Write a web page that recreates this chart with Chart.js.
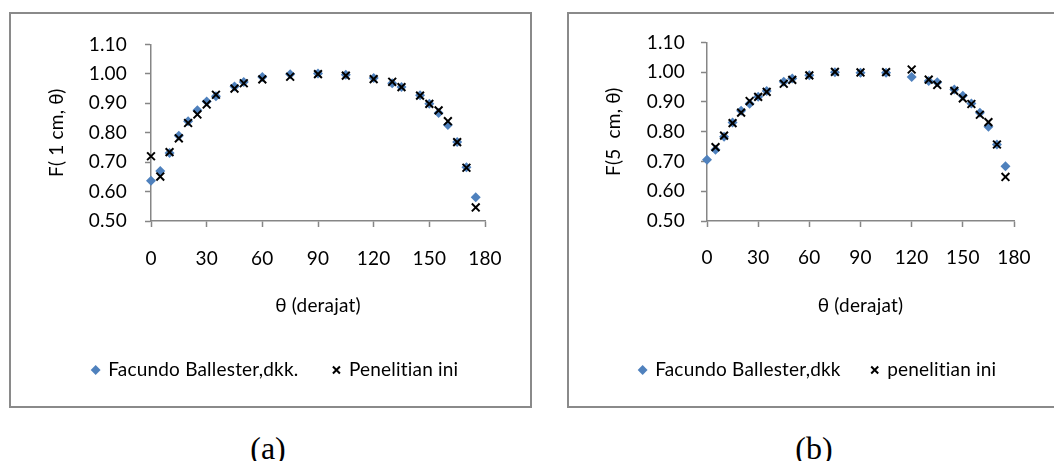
<!DOCTYPE html>
<html><head><meta charset="utf-8">
<script src="https://cdn.jsdelivr.net/npm/chart.js@4.4.0/dist/chart.umd.min.js"></script>
<style>
html,body{margin:0;padding:0;background:#fff;width:1054px;height:461px;overflow:hidden;position:relative}
.frame{position:absolute;border:2px solid #8a8a8a;box-sizing:border-box}
.cv{position:absolute}
.cap{position:absolute;font-family:'Liberation Serif','Times New Roman',serif;font-size:32px;line-height:1;transform:translate(-50%,-50%);color:#000}
</style></head>
<body>
<div class="frame" style="left:9px;top:12px;width:523px;height:396px"></div>
<div class="frame" style="left:567px;top:12px;width:500px;height:396px"></div>
<div class="cv" style="left:12px;top:15px;width:517px;height:390px"><canvas id="ca" width="517" height="390"></canvas></div>
<div class="cv" style="left:570px;top:15px;width:484px;height:390px"><canvas id="cb" width="484" height="390"></canvas></div>
<div class="cap" style="left:268px;top:448px">(a)</div>
<div class="cap" style="left:814px;top:448px">(b)</div>
<script>
// ---- data ----
const xTicks = [0, 30, 60, 90, 120, 150, 180];
const yTicks = [0.50, 0.60, 0.70, 0.80, 0.90, 1.00, 1.10];

const anglesA = [0,5,10,15,20,25,30,35,45,50,60,75,90,105,120,130,135,145,150,155,160,165,170,175];
const facundoA = [0.637,0.670,0.731,0.790,0.839,0.876,0.906,0.924,0.957,0.972,0.989,0.999,1.001,0.997,0.986,0.968,0.955,0.927,0.898,0.867,0.826,0.768,0.683,0.581];
const penelitianA = [0.720,0.651,0.734,0.781,0.833,0.862,0.896,0.929,0.950,0.968,0.981,0.990,0.999,0.994,0.982,0.973,0.955,0.926,0.898,0.876,0.839,0.768,0.681,0.546];

const anglesFacB = [0,5,10,15,20,25,30,35,45,50,60,75,90,105,120,130,135,145,150,155,160,165,170,175];
const facundoB = [0.706,0.739,0.783,0.831,0.870,0.894,0.917,0.937,0.968,0.979,0.990,1.000,0.998,0.998,0.984,0.970,0.966,0.942,0.921,0.895,0.864,0.817,0.757,0.684];
const anglesPenB = [5,10,15,20,25,30,35,45,50,60,75,90,105,120,130,135,145,150,155,160,165,170,175];
const penelitianB = [0.748,0.787,0.829,0.864,0.903,0.917,0.934,0.961,0.974,0.989,1.001,0.999,1.000,1.009,0.975,0.957,0.937,0.912,0.893,0.857,0.832,0.757,0.648];

const labelsA = ['Facundo Ballester,dkk.', 'Penelitian ini'];
const labelsB = ['Facundo Ballester,dkk', 'penelitian ini'];
const yTitleA = 'F( 1 cm, \u03b8)';
const yTitleB = 'F(5  cm, \u03b8)';
const xTitle = '\u03b8 (derajat)';

const pts = (xs, ys) => xs.map((x, i) => ({x, y: ys[i]}));

const FONT = {family: 'Lato, "Open Sans", sans-serif', size: 19};
const AXIS = '#868686';

// slight letter spacing (also stops the "ti" ligature)
const spacing = {
  id: 'spacing',
  beforeUpdate(c) { c.ctx.letterSpacing = '0.2px'; },
  beforeDraw(c) { c.ctx.letterSpacing = '0.2px'; }
};

function makeChart(id, p) {
  return new Chart(document.getElementById(id), {
    type: 'scatter',
    plugins: [spacing],
    data: {
      datasets: [
        {label: p.labels[0], data: pts(p.fx, p.fy), order: 2, clip: false,
         pointStyle: 'rectRot', pointRadius: 5, pointBorderWidth: 0,
         pointBackgroundColor: '#4F81BD', pointBorderColor: '#4F81BD',
         backgroundColor: '#4F81BD', borderColor: '#4F81BD'},
        {label: p.labels[1], data: pts(p.px, p.py), order: 1, clip: false,
         pointStyle: 'crossRot', pointRadius: 5.5, pointBorderWidth: 2,
         pointBackgroundColor: '#000', pointBorderColor: '#000',
         backgroundColor: '#000', borderColor: '#000'}
      ]
    },
    options: {
      responsive: false, animation: false, events: [],
      layout: {padding: {left: p.padL, right: 0, top: 26, bottom: p.padB}},
      plugins: {
        tooltip: {enabled: false},
        legend: {
          position: 'bottom', align: 'center',
          labels: {usePointStyle: true, boxWidth: 6, boxHeight: 7, padding: p.legPad,
                   font: FONT, color: '#000',
                   sort: (a, b) => a.datasetIndex - b.datasetIndex}
        }
      },
      scales: {
        x: {
          type: 'linear', min: 0, max: 180,
          afterBuildTicks: s => { s.ticks = xTicks.map(v => ({value: v})); },
          afterFit: s => { s.height = p.xH; },
          grid: {drawOnChartArea: false, drawTicks: true, tickLength: 6, tickColor: AXIS, tickWidth: 1.5},
          border: {color: AXIS, width: 1.5},
          ticks: {font: FONT, color: '#000', padding: p.xTickPad, maxRotation: 0},
          title: {display: true, text: xTitle, font: FONT, color: '#000', padding: {top: 0, bottom: p.xTitlePad}}
        },
        y: {
          type: 'linear', min: 0.5, max: 1.1, position: 'left',
          afterBuildTicks: s => { s.ticks = yTicks.map(v => ({value: v})); },
          afterFit: s => { s.width = p.yW; },
          grid: {drawOnChartArea: false, drawTicks: true, tickLength: 6, tickColor: AXIS, tickWidth: 1.5},
          border: {color: AXIS, width: 1.5},
          ticks: {font: FONT, color: '#000', padding: p.yTickPad, callback: v => Number(v).toFixed(2)},
          title: {display: true, text: p.yTitle, font: FONT, color: '#000', padding: {top: p.yTitlePad, bottom: 0}}
        },
        y2: {
          type: 'linear', position: 'right', display: true,
          afterFit: s => { s.width = p.y2W; },
          grid: {display: false, drawTicks: false},
          border: {display: false},
          ticks: {display: false}
        }
      }
    }
  });
}

function build() {
  makeChart('ca', {labels: labelsA, fx: anglesA, fy: facundoA, px: anglesA, py: penelitianA,
    yTitle: yTitleA, padL: 10, yW: 129, y2W: 44, yTitlePad: 23.3, yTickPad: 18, xTickPad: 20.9,
    xH: 104.5, xTitlePad: 8.1, legPad: 35, padB: 15.5});
  makeChart('cb', {labels: labelsB, fx: anglesFacB, fy: facundoB, px: anglesPenB, py: penelitianB,
    yTitle: yTitleB, padL: 12, yW: 125, y2W: 40, yTitlePad: 20.6, yTickPad: 16, xTickPad: 19.9,
    xH: 108.5, xTitlePad: 12.1, legPad: 31, padB: 15.5});
}
if (document.fonts && document.fonts.load) {
  Promise.all([document.fonts.load('19px Lato'), document.fonts.load('32px "Liberation Serif"')]).then(build, build);
} else { build(); }
</script>
</body></html>
